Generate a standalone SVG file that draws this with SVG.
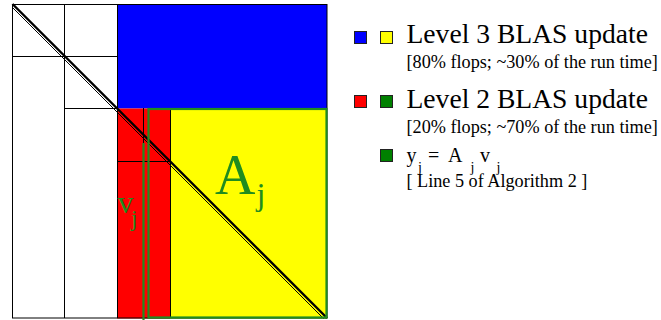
<svg xmlns="http://www.w3.org/2000/svg" width="661" height="320" viewBox="0 0 661 320">
<style>
.ln{stroke:#000;stroke-width:1;fill:none}
.gr{stroke:#1f8c1f;stroke-width:2.2;fill:none}
.gt{fill:#1f8c1f;font-family:"Liberation Serif","Times New Roman",serif}
.t{fill:#000;font-family:"Liberation Serif","Times New Roman",serif}
.sq{stroke:#222;stroke-width:1}
</style>
<rect x="0" y="0" width="661" height="320" fill="#fff"/>
<g id="matrix">
<rect x="117" y="4" width="210" height="104.5" fill="#0000ff"/>
<rect x="117" y="108.5" width="53" height="210" fill="#ff0000"/>
<rect x="170" y="108.5" width="157" height="210" fill="#ffff00"/>
<rect class="ln" x="12.5" y="4.5" width="314.5" height="313.5"/>
<line class="ln" x1="64.5" y1="4" x2="64.5" y2="318"/>
<line class="ln" x1="117.5" y1="4" x2="117.5" y2="318"/>
<line class="ln" x1="12" y1="56.5" x2="117" y2="56.5"/>
<line class="ln" x1="64" y1="108.5" x2="117" y2="108.5"/>
<line class="ln" x1="117" y1="161.5" x2="170" y2="161.5"/>
<line class="ln" x1="143.5" y1="108" x2="143.5" y2="143"/>
<line class="ln" x1="170.5" y1="108" x2="170.5" y2="318"/>
<line stroke="#000" stroke-width="2.4" x1="12.5" y1="4" x2="327" y2="318"/>
<line stroke="#000" stroke-width="1" x1="12.5" y1="7.5" x2="323.5" y2="318.5"/>
</g>
<g id="Aj">
<rect class="gr" x="148.5" y="109" width="178" height="208.5"/>
<text class="gt" x="215" y="194" font-size="56">A</text>
<text class="gt" x="256.5" y="205" font-size="32">j</text>
</g>
<g id="vj">
<line class="gr" x1="143.5" y1="143" x2="143.5" y2="320"/>
<text class="gt" x="117.5" y="213" font-size="32">v</text>
<text class="gt" x="131" y="226" font-size="23">j</text>
</g>
<g id="legend3">
<rect class="sq" x="354.5" y="31.5" width="12" height="12" fill="#0000ff"/>
<rect class="sq" x="380.5" y="31.5" width="12" height="12" fill="#ffff00"/>
<text class="t" x="406.5" y="43" font-size="27.6">Level 3 BLAS update</text>
<text class="t" x="406.5" y="68" font-size="18.2">[80% flops; ~30% of the run time]</text>
</g>
<g id="legend2">
<rect class="sq" x="354.5" y="95.5" width="12" height="12" fill="#ff0000"/>
<rect class="sq" x="380.5" y="95.5" width="12" height="12" fill="#008000"/>
<text class="t" x="406.5" y="108" font-size="27.6">Level 2 BLAS update</text>
<text class="t" x="406.5" y="133" font-size="18.2">[20% flops; ~70% of the run time]</text>
</g>
<g id="legend-gemv">
<rect class="sq" x="380.5" y="149.5" width="12" height="12" fill="#008000"/>
<text class="t" font-size="20" y="162"><tspan x="406.5">y</tspan><tspan x="428">=</tspan><tspan x="448">A</tspan><tspan x="480">v</tspan></text>
<text class="t" font-size="14" y="172"><tspan x="418">j</tspan><tspan x="470.5">j</tspan><tspan x="496.5">j</tspan></text>
<text class="t" x="406.5" y="187" font-size="18.2">[ Line 5 of Algorithm 2 ]</text>
</g>
</svg>
